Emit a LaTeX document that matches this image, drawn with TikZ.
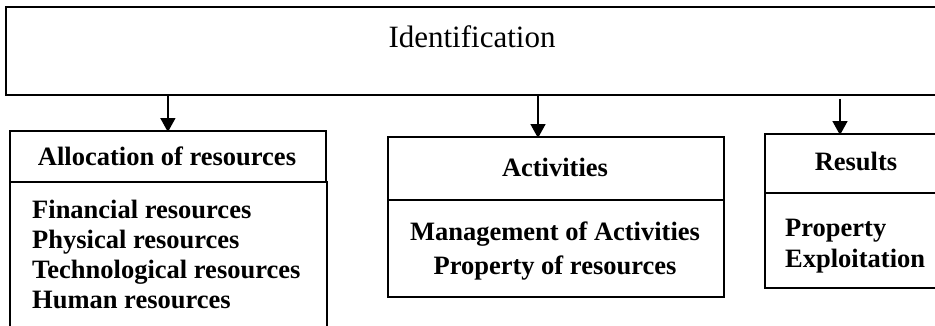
\documentclass[tikz,border=0pt]{standalone}
\usepackage{fontspec}
\setmainfont{Liberation Serif}
\usetikzlibrary{arrows.meta}
\begin{document}
\begin{tikzpicture}[x=1pt,y=-1pt,
  box/.style={draw, line width=1.8pt, inner sep=0pt, anchor=north west},
  hdr/.style={font=\fontsize{26.5}{30}\selectfont\bfseries, inner sep=0pt, anchor=base},
  itm/.style={font=\fontsize{26.5}{30}\selectfont\bfseries, inner sep=0pt, anchor=base west},
  itmc/.style={font=\fontsize{26.5}{30}\selectfont\bfseries, inner sep=0pt, anchor=base},
  arr/.style={line width=1.6pt, -{Triangle[length=14pt,width=15pt]}}]
\useasboundingbox (0,0) rectangle (935,325);
% top box
\node[box, minimum width=950pt, minimum height=88pt] (ident) at (5,6) {};
\node[font=\fontsize{31}{36}\selectfont, inner sep=0pt, anchor=base] (identt) at (472,47) {Identification};
% allocation
\node[box, minimum width=316pt, minimum height=51pt] (alloc) at (9,130) {};
\node[box, minimum width=317pt, minimum height=170pt] (allocb) at (9,181) {};
\node[hdr] (alloct) at (167,165) {Allocation of resources};
\node[itm] (a1) at (32,218) {Financial resources};
\node[itm] (a2) at (32,248) {Physical resources};
\node[itm] (a3) at (32,278) {Technological resources};
\node[itm] (a4) at (32,308) {Human resources};
% activities
\node[box, minimum width=336pt, minimum height=63pt] (act) at (387,136) {};
\node[box, minimum width=336pt, minimum height=97pt] (actb) at (387,199) {};
\node[hdr] (actt) at (555,176) {Activities};
\node[itmc] (b1) at (555,240) {Management of Activities};
\node[itmc] (b2) at (555,274) {Property of resources};
% results
\node[box, minimum width=190pt, minimum height=59pt] (res) at (764,133) {};
\node[box, minimum width=190pt, minimum height=95pt] (resb) at (764,192) {};
\node[hdr] (rest) at (856,170) {Results};
\node[itm] (c1) at (785,236) {Property};
\node[itm] (c2) at (785,267) {Exploitation};
% arrows
\draw[arr] (ident.south -| alloc.north) -- ([yshift=-2pt]alloc.north);
\draw[arr] (ident.south -| 538,0) -- ([yshift=-2pt]act.north -| 538,0);
\draw[arr] ([yshift=-3pt]ident.south -| 840,0) -- ([yshift=-2pt]res.north -| 840,0);
\end{tikzpicture}
\end{document}
